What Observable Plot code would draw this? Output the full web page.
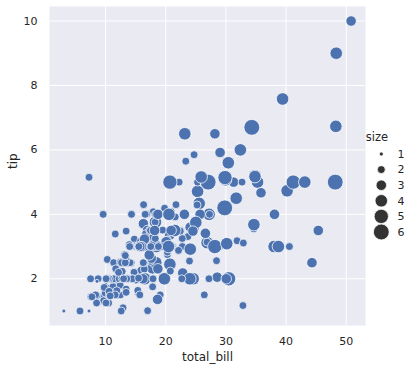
<!DOCTYPE html>
<html>
<head>
<meta charset="utf-8">
<script src="https://cdn.jsdelivr.net/npm/d3@7"></script>
<script src="https://cdn.jsdelivr.net/npm/@observablehq/plot@0.6"></script>
<style>
  html, body { margin: 0; padding: 0; background: white; }
</style>
</head>
<body>
<div id="chart"></div>
<script>
const totalBill = [
16.99,10.34,21.01,23.68,24.59,25.29,8.77,26.88,15.04,14.78,
10.27,35.26,15.42,18.43,14.83,21.58,10.33,16.29,16.97,20.65,
17.92,20.29,15.77,39.42,19.82,17.81,13.37,12.69,21.7,19.65,
9.55,18.35,15.06,20.69,17.78,24.06,16.31,16.93,18.69,31.27,
16.04,17.46,13.94,9.68,30.4,18.29,22.23,32.4,28.55,18.04,
12.54,10.29,34.81,9.94,25.56,19.49,38.01,26.41,11.24,48.27,
20.29,13.81,11.02,18.29,17.59,20.08,16.45,3.07,20.23,15.01,
12.02,17.07,26.86,25.28,14.73,10.51,17.92,27.2,22.76,17.29,
19.44,16.66,10.07,32.68,15.98,34.83,13.03,18.28,24.71,21.16,
28.97,22.49,5.75,16.32,22.75,40.17,27.28,12.03,21.01,12.46,
11.35,15.38,44.3,22.42,20.92,15.36,20.49,25.21,18.24,14.31,
14.0,7.25,38.07,23.95,25.71,17.31,29.93,10.65,12.43,24.08,
11.69,13.42,14.26,15.95,12.48,29.8,8.52,14.52,11.38,22.82,
19.08,20.27,11.17,12.26,18.26,8.51,10.33,14.15,16.0,13.16,
17.47,34.3,41.19,27.05,16.43,8.35,18.64,11.87,9.78,7.51,
14.07,13.13,17.26,24.55,19.77,29.85,48.17,25.0,13.39,16.49,
21.5,12.66,16.21,13.81,17.51,24.52,20.76,31.71,10.59,10.63,
50.81,15.81,7.25,31.85,16.82,32.9,17.89,14.48,9.6,34.63,
34.65,23.33,45.35,23.17,40.55,20.69,20.9,30.46,18.15,23.1,
15.69,19.81,28.44,15.48,16.58,7.56,10.34,43.11,13.0,13.51,
18.71,12.74,13.0,16.4,20.53,16.47,26.59,38.73,24.27,12.76,
30.06,25.89,48.33,13.27,28.17,12.9,28.15,11.59,7.74,30.14,
12.16,13.42,8.58,15.98,13.42,16.27,10.09,20.45,13.28,22.12,
24.01,15.69,11.61,10.77,15.53,10.07,12.6,32.83,35.83,29.03,
27.18,22.67,17.82,18.78
];
const tip = [
1.01,1.66,3.5,3.31,3.61,4.71,2.0,3.12,1.96,3.23,
1.71,5.0,1.57,3.0,3.02,3.92,1.67,3.71,3.5,3.35,
4.08,2.75,2.23,7.58,3.18,2.34,2.0,2.0,4.3,3.0,
1.45,2.5,3.0,2.45,3.27,3.6,2.0,3.07,2.31,5.0,
2.24,2.54,3.06,1.32,5.6,3.0,5.0,6.0,2.05,3.0,
2.5,2.6,5.2,1.56,4.34,3.51,3.0,1.5,1.76,6.73,
3.21,2.0,1.98,3.76,2.64,3.15,2.47,1.0,2.01,2.09,
1.97,3.0,3.14,5.0,2.2,1.25,3.08,4.0,3.0,2.71,
3.0,3.4,1.83,5.0,2.03,5.17,2.0,4.0,5.85,3.0,
3.0,3.5,1.0,4.3,3.25,4.73,4.0,1.5,3.0,1.5,
2.5,3.0,2.5,3.48,4.08,1.64,4.06,4.29,3.76,4.0,
3.0,1.0,4.0,2.55,4.0,3.5,5.07,1.5,1.8,2.92,
2.31,1.68,2.5,2.0,2.52,4.2,1.48,2.0,2.0,2.18,
1.5,2.83,1.5,2.0,3.25,1.25,2.0,2.0,2.0,2.75,
3.5,6.7,5.0,5.0,2.3,1.5,1.36,1.63,1.73,2.0,
2.5,2.0,2.74,2.0,2.0,5.14,5.0,3.75,2.61,2.0,
3.5,2.5,2.0,2.0,3.0,3.48,2.24,4.5,1.61,2.0,
10.0,3.16,5.15,3.18,4.0,3.11,2.0,2.0,4.0,3.55,
3.68,5.65,3.5,6.5,3.0,5.0,3.5,2.0,3.5,4.0,
1.5,4.19,2.56,2.02,4.0,1.44,2.0,5.0,2.0,2.0,
4.0,2.01,2.0,2.5,4.0,3.23,3.41,3.0,2.03,2.23,
2.0,5.16,9.0,2.5,6.5,1.1,3.0,1.5,1.44,3.09,
2.2,3.48,1.92,3.0,1.58,2.5,2.0,3.0,2.72,2.88,
2.0,3.0,3.39,1.47,3.0,1.25,1.0,1.17,4.67,5.92,
2.0,2.0,1.75,3.0
];
const partySize = [
2,3,3,2,4,4,2,4,2,2,
2,4,2,4,2,2,3,3,3,3,
2,2,2,4,2,4,2,2,2,2,
2,4,2,4,2,3,3,3,3,3,
3,2,2,2,4,2,2,4,3,2,
2,2,4,2,4,2,4,2,2,4,
2,2,2,4,3,3,2,1,2,2,
2,3,2,2,2,2,2,4,2,2,
2,2,1,2,2,4,2,2,2,2,
2,2,2,2,2,4,2,2,2,2,
2,2,3,2,2,2,2,2,2,2,
2,1,3,2,3,2,4,2,2,4,
2,2,2,2,2,6,2,2,2,3,
2,2,2,2,2,2,2,2,2,2,
2,6,5,6,2,2,3,2,2,2,
2,2,3,4,4,5,6,4,2,4,
4,2,3,2,2,3,2,4,2,2,
3,2,2,2,2,2,2,2,2,2,
4,2,3,4,2,5,3,5,3,3,
2,2,2,2,2,2,2,4,2,2,
3,2,2,2,4,3,3,4,2,2,
3,4,4,2,3,2,5,2,2,4,
2,2,1,3,2,2,2,4,2,2,
4,3,2,2,2,2,2,2,3,3,
2,2,2,2
];
const xTicks = [10, 20, 30, 40, 50];
const yTicks = [2, 4, 6, 8, 10];
const legendSizes = [1, 2, 3, 4, 5, 6];

const data = totalBill.map((b, i) => ({total_bill: b, tip: tip[i], size: partySize[i]}));

// area grows linearly with size, starting from a small non-zero area for size 1
const sizeOffset = 0.658;
const rArea = d => d - sizeOffset;

const W = 417, H = 369;
const mL = 49, mR = 52, mT = 6, mB = 44;

const chart = Plot.plot({
  width: W,
  height: H,
  marginLeft: mL,
  marginRight: mR,
  marginTop: mT,
  marginBottom: mB,
  style: {fontFamily: "DejaVu Sans", fontSize: "11px", color: "#262626", background: "white"},
  x: {domain: [0.683, 53.197]},
  y: {domain: [0.55, 10.45]},
  r: {type: "sqrt", domain: [0, 6 - sizeOffset], range: [0, 7.9]},
  marks: [
    Plot.frame({fill: "#EAEAF2", stroke: null}),
    Plot.gridX(xTicks, {stroke: "white", strokeOpacity: 1, strokeWidth: 1}),
    Plot.gridY(yTicks, {stroke: "white", strokeOpacity: 1, strokeWidth: 1}),
    Plot.axisX(xTicks, {tickSize: 0, tickPadding: 12, label: null, fontSize: 11}),
    Plot.axisY(yTicks, {tickSize: 0, tickPadding: 12, label: null, fontSize: 11}),
    Plot.dot(data, {
      x: "total_bill", y: "tip", r: d => rArea(d.size),
      fill: "#4C72B0", stroke: "white", strokeWidth: 0.75, sort: null
    }),
    Plot.text(["total_bill"], {frameAnchor: "bottom", dy: 32, fontSize: 12, fill: "#262626", lineAnchor: "middle"}),
    Plot.text(["tip"], {frameAnchor: "left", dx: -36, dy: 3, rotate: -90, fontSize: 12, fill: "#262626", lineAnchor: "middle"})
  ]
});

// legend built from the chart's own r scale
const rScale = chart.scale("r");
const svg = d3.select(chart);
const lg = svg.append("g").attr("font-family", "DejaVu Sans").attr("fill", "#262626");
lg.append("text").attr("x", 377).attr("y", 137).attr("dy", "0.35em").attr("font-size", 11.5).text("size");
legendSizes.forEach((s, i) => {
  const y = 154 + i * 15.6;
  lg.append("circle").attr("cx", 381.3).attr("cy", y)
    .attr("r", rScale.apply(rArea(s)))
    .attr("fill", "#333333").attr("stroke", "white").attr("stroke-width", 0.75);
  lg.append("text").attr("x", 401).attr("y", y).attr("dy", "0.35em").attr("font-size", 11).text(String(s));
});

document.getElementById("chart").appendChild(chart);
</script>
</body>
</html>
